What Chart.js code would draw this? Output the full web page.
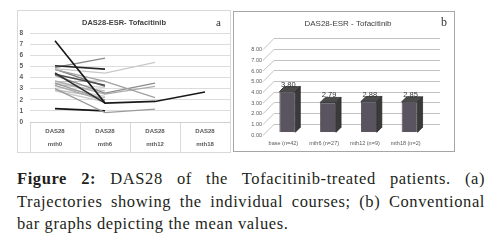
<!DOCTYPE html>
<html>
<head>
<meta charset="utf-8">
<script src="https://cdn.jsdelivr.net/npm/chart.js@4.4.1/dist/chart.umd.min.js"></script>
<style>
  body { margin: 0; width: 504px; height: 241px; background: #fff; position: relative; overflow: hidden; }
  .panel { position: absolute; background: #fff; }
  #panelA { left: 17px; top: 10px; width: 212px; height: 141px; border: 1px solid #d9d9d9; }
  #panelB { left: 233px; top: 11px; width: 220px; height: 139px; border: 1px solid #a6a6a6; }
  .tag { position: absolute; font-family: 'Liberation Serif', serif; color: #333; }
  #caption { position: absolute; left: 17px; top: 168px; width: 468px; font-family: 'Liberation Serif', serif;
    font-size: 16.5px; line-height: 22.5px; letter-spacing: 0.6px; color: #231f20; }
  #caption div { text-align: justify; text-align-last: justify; }
  #caption div.last { text-align-last: left; }
</style>
</head>
<body>
<div class="panel" id="panelA"><canvas id="chartA" width="212" height="141"></canvas></div>
<div class="panel" id="panelB"><canvas id="chartB" width="220" height="139"></canvas></div>
<span class="tag" style="left:216px;top:16px;font-size:11px;">a</span>
<span class="tag" style="left:441px;top:15px;font-size:12px;">b</span>
<div id="caption">
  <div><b>Figure 2:</b> DAS28 of the Tofacitinib-treated patients. (a)</div>
  <div>Trajectories showing the individual courses; (b) Conventional</div>
  <div class="last">bar graphs depicting the mean values.</div>
</div>
<script>
// panel a: individual trajectories
const visitLabels = [['DAS28', 'mth0'], ['DAS28', 'mth6'], ['DAS28', 'mth12'], ['DAS28', 'mth18']];
const pt01 = [7.3, 1.7, 1.85, 2.7];
const pt02 = [5.05, 4.75, null, null];
const pt03 = [4.9, 5.75, null, null];
const pt04 = [4.8, 4.4, 5.35, null];
const pt05 = [4.7, 3.65, 2.2, null];
const pt06 = [4.4, 1.7, null, null];
const pt07 = [4.3, 3.3, null, null];
const pt08 = [4.2, 2.6, 3.5, null];
const pt09 = [3.7, 2.5, 3.2, null];
const pt10 = [3.6, 3.7, null, null];
const pt11 = [3.5, 2.0, null, null];
const pt12 = [3.4, 2.8, null, null];
const pt13 = [3.3, 1.9, null, null];
const pt14 = [3.2, 2.3, null, null];
const pt15 = [3.0, 0.85, 1.15, null];
const pt16 = [2.9, 2.2, null, null];
const pt17 = [2.8, 1.8, null, null];
const pt18 = [1.2, 1.0, null, null];
const pt19 = [4.75, 3.2, null, null];
const pt20 = [3.5, 3.1, null, null];
const trajectories = [pt01, pt02, pt03, pt04, pt05, pt06, pt07, pt08, pt09, pt10,
  pt11, pt12, pt13, pt14, pt15, pt16, pt17, pt18, pt19, pt20];
const lineShades = ['#1a1a1a', '#262626', '#8c8c8c', '#c8c8c8', '#a0a0a0', '#333333', '#4d4d4d', '#8c8c8c', '#ababab', '#c0c0c0',
  '#9a9a9a', '#bdbdbd', '#a8a8a8', '#cfcfcf', '#9c9c9c', '#bfbfbf', '#c6c6c6', '#141414', '#7a7a7a', '#d4d4d4'];

// panel b: mean values
const groupLabels = ['base (n=42)', 'mth6 (n=27)', 'mth12 (n=9)', 'mth18 (n=2)'];
const meanValues = [3.80, 2.79, 2.88, 2.85];
const wallTicks = [0, 1, 2, 3, 4, 5, 6, 7, 8];

const narrow = "'Liberation Sans Narrow', 'Liberation Sans', Arial, sans-serif";

new Chart(document.getElementById('chartA'), {
  type: 'line',
  data: {
    labels: visitLabels,
    datasets: trajectories.map((d, i) => ({
      data: d,
      borderColor: lineShades[i],
      borderWidth: lineShades[i] < '#5' ? 1.6 : 1.3,
      pointRadius: 0,
      tension: 0,
      spanGaps: false,
    })),
  },
  options: {
    responsive: false,
    animation: false,
    layout: { padding: 0 },
    plugins: {
      legend: { display: false },
      tooltip: { enabled: false },
      title: {
        display: true,
        text: 'DAS28-ESR- Tofacitinib',
        color: '#404040',
        font: { family: narrow, size: 7.5, weight: 'bold' },
        padding: { top: 7, bottom: 6 },
      },
    },
    scales: {
      x: {
        offset: true,
        grid: { offset: true, drawOnChartArea: false, tickLength: 30, color: '#d9d9d9' },
        border: { color: '#d0d0d0' },
        ticks: { color: '#595959', font: { family: narrow, size: 6, weight: 'bold', lineHeight: 2.15 }, padding: -27, maxRotation: 0 },
        afterFit: (s) => { s.height = 30; },
      },
      y: {
        min: 0,
        max: 8,
        grid: { drawTicks: false, color: '#dcdcdc' },
        border: { display: false },
        ticks: { stepSize: 1, padding: 7, color: '#595959', font: { family: narrow, size: 6.5, weight: 'bold' } },
        afterFit: (s) => { s.width = 12; },
      },
    },
  },
});

// back wall and side wall gridlines of the 3D plot
function drawWalls(chart) {
  const ctx = chart.ctx;
  const area = chart.chartArea;
  const yScale = chart.scales.y;
  ctx.save();
  ctx.strokeStyle = '#c2c2c2';
  ctx.lineWidth = 1;
  const x0 = area.left - 4, x1 = area.left + 7, x2 = area.right + 10;
  wallTicks.forEach((v) => {
    const py = yScale.getPixelForValue(v);
    const yb = Math.round(py - 8.5) + 0.5;
    ctx.beginPath();
    ctx.moveTo(x0, py + 3);
    ctx.lineTo(x1, yb);
    ctx.lineTo(x2, yb);
    ctx.stroke();
  });
  ctx.restore();
}

// side and top faces of each bar, plus the value labels
const bar3d = {
  id: 'bar3d',
  beforeDatasetsDraw(chart) { drawWalls(chart); },
  afterDatasetsDraw(chart) {
    const { ctx } = chart;
    const meta = chart.getDatasetMeta(0);
    const dx = 5, dy = 5;
    ctx.save();
    ctx.lineWidth = 0.7;
    ctx.strokeStyle = '#222';
    meta.data.forEach((bar, i) => {
      const p = bar.getProps(['x', 'y', 'base', 'width'], true);
      const l = p.x - p.width / 2, r = p.x + p.width / 2;
      ctx.fillStyle = '#3a3a3a';
      ctx.beginPath();
      ctx.moveTo(r, p.y); ctx.lineTo(r + dx, p.y - dy); ctx.lineTo(r + dx, p.base - dy); ctx.lineTo(r, p.base);
      ctx.closePath(); ctx.fill(); ctx.stroke();
      ctx.fillStyle = '#4b4b4b';
      ctx.beginPath();
      ctx.moveTo(l, p.y); ctx.lineTo(l + dx, p.y - dy); ctx.lineTo(r + dx, p.y - dy); ctx.lineTo(r, p.y);
      ctx.closePath(); ctx.fill(); ctx.stroke();
      ctx.fillStyle = '#333';
      ctx.font = '7.5px ' + narrow;
      ctx.textAlign = 'center';
      ctx.textBaseline = 'middle';
      ctx.fillText(meanValues[i].toFixed(2), p.x + 1, p.y - 7);
    });
    ctx.restore();
  },
};

new Chart(document.getElementById('chartB'), {
  type: 'bar',
  data: {
    labels: groupLabels,
    datasets: [{
      data: meanValues,
      backgroundColor: '#5a5461',
      borderColor: '#2b2b2b',
      borderWidth: 0.8,
      barPercentage: 0.39,
      categoryPercentage: 1,
    }],
  },
  options: {
    responsive: false,
    animation: false,
    layout: { padding: { left: 8, right: 0, top: 0, bottom: 0 } },
    plugins: {
      legend: { display: false },
      tooltip: { enabled: false },
      title: {
        display: true,
        text: 'DAS28-ESR - Tofacitinib',
        color: '#404040',
        font: { family: narrow, size: 8, weight: 'normal' },
        padding: { top: 7, bottom: 18 },
      },
    },
    scales: {
      x: {
        grid: { display: false, drawTicks: false },
        border: { display: false },
        ticks: { color: '#595959', font: { family: narrow, size: 5.5 }, padding: 8, labelOffset: -4, maxRotation: 0 },
        afterFit: (s) => { s.height = 18.7; },
      },
      y: {
        min: 0,
        max: 8,
        grid: { display: false, drawTicks: false },
        border: { display: false },
        ticks: { stepSize: 1, padding: 5, labelOffset: 3, color: '#595959', font: { family: narrow, size: 5.5 },
          callback: (v) => v.toFixed(2) },
        afterFit: (s) => { s.width = 25; },
      },
      yRight: {
        position: 'right',
        display: true,
        grid: { display: false, drawTicks: false },
        border: { display: false },
        ticks: { display: false },
        afterFit: (s) => { s.width = 24; },
      },
    },
  },
  plugins: [bar3d],
});
</script>
</body>
</html>
